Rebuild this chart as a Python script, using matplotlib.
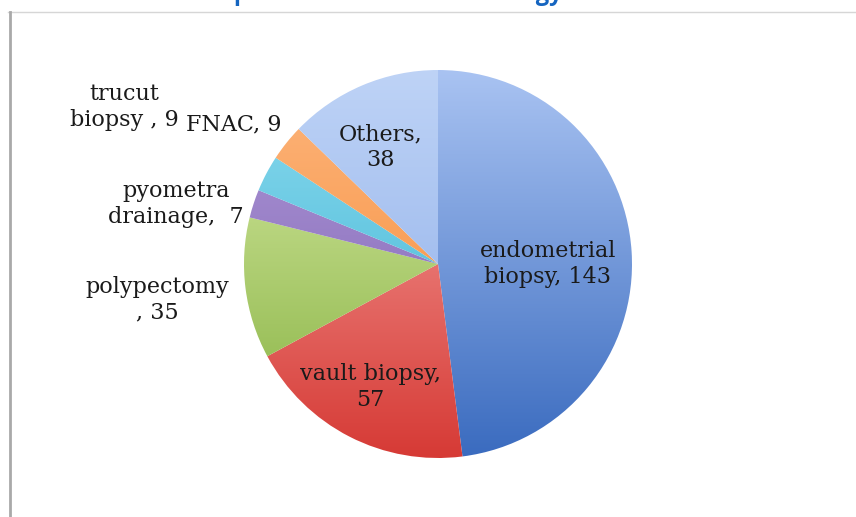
import numpy as np
import matplotlib.pyplot as plt
from matplotlib.colors import to_rgb
from matplotlib.lines import Line2D

# slices, clockwise from 12 o'clock
labels = ["endometrial\nbiopsy, 143", "vault biopsy,\n57", "polypectomy\n, 35",
          "pyometra\ndrainage,  7", "trucut\nbiopsy , 9", "FNAC, 9", "Others,\n38"]
counts = [143, 57, 35, 7, 9, 9, 38]
title = "Specimens Sent for Histology"

# excel-like vertical gradient, light at top -> dark at bottom
top_colors = ["#a9c3f2", "#f8aaa7", "#dbeda9", "#b09ad8", "#8edcf0", "#fdb67e", "#bed3f6"]
bottom_colors = ["#3a6bbf", "#d63a35", "#84b03e", "#7a5db0", "#34aecf", "#f5872e", "#8aabe8"]

# label centres in pixels (x, y from top)
label_px = [(548, 264), (370, 387), (157, 300), (176, 204), (124, 107), (234, 124), (381, 147)]

W, H = 856, 517
cx, cy, r = 438, 264, 194   # pie centre / radius in pixels

fig = plt.figure(figsize=(W / 100, H / 100), dpi=100)
ax = fig.add_axes([0, 0, 1, 1])
wedges, _ = ax.pie(counts, startangle=90, counterclock=False, radius=1, center=(0, 0))

grad = np.linspace(0, 1, 256)[:, None, None]
for w, ct, cb in zip(wedges, top_colors, bottom_colors):
    t, b = np.array(to_rgb(ct)), np.array(to_rgb(cb))
    img = t[None, None, :] * (1 - grad) + b[None, None, :] * grad
    w.set_facecolor("none")
    w.set_edgecolor("none")
    im = ax.imshow(img, extent=(-1, 1, -1, 1), origin="upper", aspect="auto",
                   interpolation="bilinear", zorder=1)
    im.set_clip_path(w)

for lab, (px, py) in zip(labels, label_px):
    ax.text((px - cx) / r, (cy - py) / r, lab, ha="center", va="center",
            fontsize=16, family="DejaVu Serif", color="#1a1a1a", linespacing=1.2, zorder=3)

ax.set_xlim(-cx / r, (W - cx) / r)
ax.set_ylim(-(H - cy) / r, cy / r)
ax.set_aspect("auto")
ax.axis("off")

# chart frame (top + left edges visible)
fig.add_artist(Line2D([8 / W, 1], [1 - 12 / H] * 2, color="#d6d6d6", lw=1))
fig.add_artist(Line2D([10 / W] * 2, [0, 1 - 12 / H], color="#a9a9a9", lw=2))

# title is cut off by the top edge in the original, only descenders show
fig.text(221 / W, 1 + 0.5 / H, title, ha="left", va="baseline", fontsize=17,
         fontweight="bold", color="#1565c0", family="Open Sans")

fig.savefig("out.png", dpi=100)
